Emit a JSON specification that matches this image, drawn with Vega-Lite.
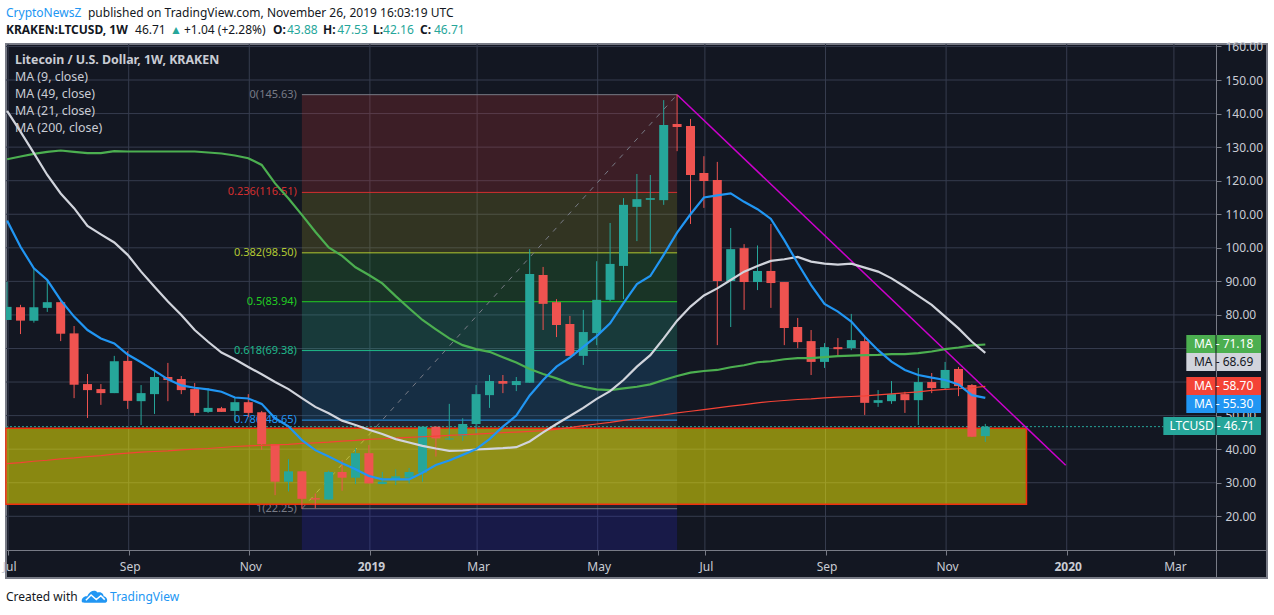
{
  "$schema": "https://vega.github.io/schema/vega-lite/v6.json",
  "width": 1261,
  "height": 534,
  "autosize": {"type": "none"},
  "padding": {"left": 6, "top": 44, "right": 7, "bottom": 37},
  "background": "white",
  "view": {"fill": "#131722", "stroke": "#787b86", "strokeWidth": 2},
  "config": {"axis": {"grid": false, "labelOverlap": false}, "text": {"font": "Noto Sans"}},
  "resolve": {"scale": {"color": "independent"}},
  "datasets": {
    "candles": [
      {"date":"2018-07-02","open":78.5,"high":89.9,"low":78.5,"close":82.4,"dir":"up","ma9":108.1,"ma21":140.8,"ma49":126.4,"ma200":35.7},
      {"date":"2018-07-09","open":82.3,"high":83,"low":74.3,"close":78.3,"dir":"down","ma9":100.3,"ma21":134.6,"ma49":127.2,"ma200":36},
      {"date":"2018-07-16","open":78.3,"high":93.9,"low":77.7,"close":82.3,"dir":"up","ma9":93.9,"ma21":128.2,"ma49":128,"ma200":36.4},
      {"date":"2018-07-23","open":82.1,"high":90.4,"low":80.9,"close":83.8,"dir":"up","ma9":90.4,"ma21":121.7,"ma49":128.6,"ma200":36.7},
      {"date":"2018-07-30","open":83.8,"high":84.2,"low":72.2,"close":74.4,"dir":"down","ma9":84.4,"ma21":116.2,"ma49":129,"ma200":37.1},
      {"date":"2018-08-06","open":74.5,"high":76.7,"low":55.2,"close":59.2,"dir":"down","ma9":79.5,"ma21":111.8,"ma49":128.6,"ma200":37.4},
      {"date":"2018-08-13","open":59.4,"high":62.4,"low":49.3,"close":57.6,"dir":"down","ma9":75.5,"ma21":106.5,"ma49":128.2,"ma200":37.8},
      {"date":"2018-08-20","open":57.9,"high":59.4,"low":53.2,"close":56.7,"dir":"down","ma9":73,"ma21":104,"ma49":128.2,"ma200":38.1},
      {"date":"2018-08-27","open":56.7,"high":67.8,"low":56.7,"close":66.2,"dir":"up","ma9":71.5,"ma21":101.6,"ma49":128.8,"ma200":38.5},
      {"date":"2018-09-03","open":66.3,"high":69.2,"low":52,"close":54.4,"dir":"down","ma9":68.2,"ma21":97.9,"ma49":128.7,"ma200":38.8},
      {"date":"2018-09-10","open":54.3,"high":59.1,"low":47.2,"close":56.7,"dir":"up","ma9":65.9,"ma21":92.9,"ma49":128.7,"ma200":39.1},
      {"date":"2018-09-17","open":56.4,"high":63.4,"low":50.5,"close":61.5,"dir":"up","ma9":63.4,"ma21":88.4,"ma49":128.7,"ma200":39.3},
      {"date":"2018-09-24","open":61.5,"high":65.7,"low":54.3,"close":60.6,"dir":"down","ma9":60.8,"ma21":84,"ma49":128.7,"ma200":39.5},
      {"date":"2018-10-01","open":60.9,"high":61.8,"low":56.4,"close":57.6,"dir":"down","ma9":59,"ma21":80,"ma49":128.7,"ma200":39.8},
      {"date":"2018-10-08","open":57.9,"high":59.7,"low":49.9,"close":50.8,"dir":"down","ma9":58.3,"ma21":75.5,"ma49":128.7,"ma200":40},
      {"date":"2018-10-15","open":51.1,"high":58.2,"low":50.8,"close":52.3,"dir":"up","ma9":57.8,"ma21":72,"ma49":128.4,"ma200":40.2},
      {"date":"2018-10-22","open":52.2,"high":52.6,"low":51.1,"close":51.1,"dir":"down","ma9":57.1,"ma21":68.8,"ma49":128.1,"ma200":40.5},
      {"date":"2018-10-29","open":51.4,"high":55.5,"low":48.4,"close":54,"dir":"up","ma9":55.4,"ma21":66.8,"ma49":127.5,"ma200":40.8},
      {"date":"2018-11-05","open":54,"high":56.4,"low":49.6,"close":50.8,"dir":"down","ma9":55.1,"ma21":64.5,"ma49":126.7,"ma200":41},
      {"date":"2018-11-12","open":51,"high":51.4,"low":39.8,"close":41.5,"dir":"down","ma9":53.5,"ma21":62.3,"ma49":124.7,"ma200":41.1},
      {"date":"2018-11-19","open":41.5,"high":41.5,"low":26.3,"close":30.3,"dir":"down","ma9":49.2,"ma21":60,"ma49":119.2,"ma200":41.3},
      {"date":"2018-11-26","open":30.3,"high":37,"low":27.4,"close":33.4,"dir":"up","ma9":46.8,"ma21":57.9,"ma49":114.7,"ma200":41.4},
      {"date":"2018-12-03","open":33.4,"high":33.4,"low":22.25,"close":25.2,"dir":"down","ma9":42.7,"ma21":55.2,"ma49":109.8,"ma200":41.7},
      {"date":"2018-12-10","open":25.4,"high":26.8,"low":22.4,"close":25,"dir":"down","ma9":39.7,"ma21":52.6,"ma49":104.8,"ma200":41.9},
      {"date":"2018-12-17","open":25,"high":33.6,"low":25,"close":33.2,"dir":"up","ma9":37.8,"ma21":50.7,"ma49":100.1,"ma200":42.1},
      {"date":"2018-12-24","open":33.2,"high":36.8,"low":27.6,"close":31.5,"dir":"down","ma9":35.8,"ma21":48.5,"ma49":97.6,"ma200":42.4},
      {"date":"2018-12-31","open":31.5,"high":40.2,"low":29.6,"close":38.8,"dir":"up","ma9":34,"ma21":47.2,"ma49":94.2,"ma200":42.6},
      {"date":"2019-01-07","open":38.8,"high":41.2,"low":29.8,"close":29.8,"dir":"down","ma9":32,"ma21":45.8,"ma49":91.9,"ma200":42.9},
      {"date":"2019-01-14","open":29.6,"high":33.2,"low":29.6,"close":30.3,"dir":"up","ma9":31,"ma21":44.5,"ma49":89.4,"ma200":43.1},
      {"date":"2019-01-21","open":30.8,"high":34,"low":29.3,"close":31.9,"dir":"up","ma9":31,"ma21":43,"ma49":85.6,"ma200":43.3},
      {"date":"2019-01-28","open":31.5,"high":34.4,"low":29.8,"close":33.2,"dir":"up","ma9":31,"ma21":42,"ma49":82,"ma200":43.5},
      {"date":"2019-02-04","open":33,"high":46.8,"low":30.3,"close":46.7,"dir":"up","ma9":33,"ma21":41,"ma49":78.5,"ma200":43.7},
      {"date":"2019-02-11","open":46.7,"high":46.8,"low":37.8,"close":43.2,"dir":"down","ma9":35.3,"ma21":40.2,"ma49":75.7,"ma200":43.9},
      {"date":"2019-02-18","open":42.9,"high":53.5,"low":42.7,"close":43.2,"dir":"up","ma9":36.6,"ma21":39.5,"ma49":73,"ma200":44.1},
      {"date":"2019-02-25","open":44,"high":49.2,"low":42.5,"close":47.5,"dir":"up","ma9":38.3,"ma21":39.6,"ma49":71,"ma200":44.3},
      {"date":"2019-03-04","open":47.5,"high":59.1,"low":44.7,"close":56.4,"dir":"up","ma9":40,"ma21":39.9,"ma49":69.8,"ma200":44.5},
      {"date":"2019-03-11","open":56.1,"high":62.1,"low":52.3,"close":60.3,"dir":"up","ma9":43,"ma21":40.1,"ma49":69,"ma200":44.7},
      {"date":"2019-03-18","open":60.3,"high":62.1,"low":56.7,"close":59.5,"dir":"down","ma9":46.7,"ma21":40.3,"ma49":67.4,"ma200":44.9},
      {"date":"2019-03-25","open":59.1,"high":61.5,"low":57.3,"close":60.3,"dir":"up","ma9":50,"ma21":40.6,"ma49":65.8,"ma200":45.1},
      {"date":"2019-04-01","open":59.8,"high":99.6,"low":59.8,"close":92.2,"dir":"up","ma9":56,"ma21":42.3,"ma49":63.9,"ma200":45.3},
      {"date":"2019-04-08","open":91.9,"high":94.3,"low":75.5,"close":83.3,"dir":"down","ma9":60.6,"ma21":45,"ma49":62.4,"ma200":45.5},
      {"date":"2019-04-15","open":83.8,"high":84.7,"low":73.4,"close":77,"dir":"down","ma9":64.6,"ma21":47.5,"ma49":61.1,"ma200":45.9},
      {"date":"2019-04-22","open":77.3,"high":79.7,"low":67.8,"close":67.8,"dir":"down","ma9":67.3,"ma21":49.9,"ma49":59.6,"ma200":46.4},
      {"date":"2019-04-29","open":67.8,"high":81.5,"low":65.1,"close":74.9,"dir":"up","ma9":70.5,"ma21":52.3,"ma49":58.6,"ma200":47},
      {"date":"2019-05-06","open":74.6,"high":96,"low":71,"close":84.5,"dir":"up","ma9":73.7,"ma21":55,"ma49":57.8,"ma200":47.5},
      {"date":"2019-05-13","open":84.5,"high":107.4,"low":84.1,"close":95.2,"dir":"up","ma9":77.5,"ma21":57.3,"ma49":57.6,"ma200":48},
      {"date":"2019-05-20","open":94.6,"high":114.8,"low":84.7,"close":112.8,"dir":"up","ma9":83.5,"ma21":60.6,"ma49":58.1,"ma200":48.6},
      {"date":"2019-05-27","open":112.2,"high":122,"low":102,"close":114.5,"dir":"up","ma9":89.2,"ma21":64.6,"ma49":58.6,"ma200":49.1},
      {"date":"2019-06-03","open":114.3,"high":121.7,"low":98.3,"close":114.8,"dir":"up","ma9":91.6,"ma21":68,"ma49":59.3,"ma200":49.7},
      {"date":"2019-06-10","open":114.2,"high":144,"low":112.8,"close":136.6,"dir":"up","ma9":97.9,"ma21":73,"ma49":60.6,"ma200":50.2},
      {"date":"2019-06-17","open":136.9,"high":145.63,"low":128.8,"close":136,"dir":"down","ma9":104.5,"ma21":78.3,"ma49":61.8,"ma200":50.8},
      {"date":"2019-06-24","open":136.3,"high":138.4,"low":107.1,"close":121.7,"dir":"down","ma9":110,"ma21":82.5,"ma49":62.8,"ma200":51.3},
      {"date":"2019-07-01","open":122.3,"high":127.3,"low":111.9,"close":119.9,"dir":"down","ma9":115,"ma21":85.8,"ma49":63.3,"ma200":51.8},
      {"date":"2019-07-08","open":120.2,"high":125.6,"low":71,"close":90.1,"dir":"down","ma9":115.6,"ma21":87.9,"ma49":63.6,"ma200":52.3},
      {"date":"2019-07-15","open":90.1,"high":105.9,"low":76.4,"close":99.6,"dir":"up","ma9":116.2,"ma21":90.4,"ma49":64.4,"ma200":52.8},
      {"date":"2019-07-22","open":99.9,"high":101.1,"low":81.5,"close":89.8,"dir":"down","ma9":113.7,"ma21":92.9,"ma49":65,"ma200":53.3},
      {"date":"2019-07-29","open":89.8,"high":100.7,"low":87.4,"close":93.1,"dir":"up","ma9":111.5,"ma21":94.6,"ma49":65.9,"ma200":53.8},
      {"date":"2019-08-05","open":93.1,"high":107.1,"low":82.1,"close":89.5,"dir":"down","ma9":108.6,"ma21":96.1,"ma49":66.2,"ma200":54.2},
      {"date":"2019-08-12","open":89.8,"high":89.8,"low":71,"close":76.1,"dir":"down","ma9":102.3,"ma21":96.6,"ma49":66.8,"ma200":54.5},
      {"date":"2019-08-19","open":76.4,"high":79.1,"low":70.1,"close":71.9,"dir":"down","ma9":95.4,"ma21":97.3,"ma49":67.1,"ma200":54.8},
      {"date":"2019-08-26","open":72.2,"high":75.5,"low":62.1,"close":66,"dir":"down","ma9":88.9,"ma21":95.9,"ma49":67.1,"ma200":55},
      {"date":"2019-09-02","open":66,"high":71.6,"low":64.2,"close":70.4,"dir":"up","ma9":83.3,"ma21":95.3,"ma49":67.4,"ma200":55.3},
      {"date":"2019-09-09","open":70.4,"high":73.1,"low":67.8,"close":69.8,"dir":"down","ma9":81,"ma21":95,"ma49":67.7,"ma200":55.5},
      {"date":"2019-09-16","open":70.1,"high":80.3,"low":69.5,"close":72.5,"dir":"up","ma9":78,"ma21":95.3,"ma49":67.9,"ma200":55.7},
      {"date":"2019-09-23","open":72.2,"high":73.5,"low":50.2,"close":53.8,"dir":"down","ma9":73.5,"ma21":94.1,"ma49":68,"ma200":55.9},
      {"date":"2019-09-30","open":53.8,"high":57.6,"low":52.6,"close":54.6,"dir":"up","ma9":69.5,"ma21":92.9,"ma49":68.1,"ma200":56.2},
      {"date":"2019-10-07","open":54.3,"high":60.3,"low":53.5,"close":56.4,"dir":"up","ma9":66.1,"ma21":90.9,"ma49":68.3,"ma200":56.5},
      {"date":"2019-10-14","open":56.4,"high":57.1,"low":50.8,"close":54.6,"dir":"down","ma9":63.6,"ma21":88.4,"ma49":68.3,"ma200":56.8},
      {"date":"2019-10-21","open":54.6,"high":64.2,"low":47.2,"close":60,"dir":"up","ma9":62.1,"ma21":85.7,"ma49":68.6,"ma200":57.1},
      {"date":"2019-10-28","open":60,"high":62.7,"low":56.7,"close":58.2,"dir":"down","ma9":61.3,"ma21":83,"ma49":69.1,"ma200":57.5},
      {"date":"2019-11-04","open":58.2,"high":66,"low":57.9,"close":63.6,"dir":"up","ma9":60.6,"ma21":79.5,"ma49":69.8,"ma200":57.8},
      {"date":"2019-11-11","open":63.9,"high":64.5,"low":55.8,"close":58.8,"dir":"down","ma9":59.3,"ma21":76,"ma49":70.3,"ma200":58},
      {"date":"2019-11-18","open":59.1,"high":59.4,"low":43.6,"close":43.7,"dir":"down","ma9":56.1,"ma21":72,"ma49":70.9,"ma200":58.3},
      {"date":"2019-11-25","open":43.88,"high":47.53,"low":42.16,"close":46.71,"dir":"up","ma9":55.3,"ma21":68.69,"ma49":71.18,"ma200":58.7}
    ],
    "gridH": [
      {"price":20,"from":"2018-07-01T10:00:00Z","to":"2020-03-24T12:00:00Z"},
      {"price":30,"from":"2018-07-01T10:00:00Z","to":"2020-03-24T12:00:00Z"},
      {"price":40,"from":"2018-07-01T10:00:00Z","to":"2020-03-24T12:00:00Z"},
      {"price":50,"from":"2018-07-01T10:00:00Z","to":"2020-03-24T12:00:00Z"},
      {"price":60,"from":"2018-07-01T10:00:00Z","to":"2020-03-24T12:00:00Z"},
      {"price":70,"from":"2018-07-01T10:00:00Z","to":"2020-03-24T12:00:00Z"},
      {"price":80,"from":"2018-07-01T10:00:00Z","to":"2020-03-24T12:00:00Z"},
      {"price":90,"from":"2018-07-01T10:00:00Z","to":"2020-03-24T12:00:00Z"},
      {"price":100,"from":"2018-07-01T10:00:00Z","to":"2020-03-24T12:00:00Z"},
      {"price":110,"from":"2018-07-01T10:00:00Z","to":"2020-03-24T12:00:00Z"},
      {"price":120,"from":"2018-07-01T10:00:00Z","to":"2020-03-24T12:00:00Z"},
      {"price":130,"from":"2018-07-01T10:00:00Z","to":"2020-03-24T12:00:00Z"},
      {"price":140,"from":"2018-07-01T10:00:00Z","to":"2020-03-24T12:00:00Z"},
      {"price":150,"from":"2018-07-01T10:00:00Z","to":"2020-03-24T12:00:00Z"},
      {"price":160,"from":"2018-07-01T10:00:00Z","to":"2020-03-24T12:00:00Z"}
    ],
    "gridV": [
      {"date":"2018-07-02","low":9.95,"high":160.73},
      {"date":"2018-09-03","low":9.95,"high":160.73},
      {"date":"2018-11-05","low":9.95,"high":160.73},
      {"date":"2019-01-07","low":9.95,"high":160.73},
      {"date":"2019-03-04","low":9.95,"high":160.73},
      {"date":"2019-05-06","low":9.95,"high":160.73},
      {"date":"2019-07-01","low":9.95,"high":160.73},
      {"date":"2019-09-02","low":9.95,"high":160.73},
      {"date":"2019-11-04","low":9.95,"high":160.73},
      {"date":"2020-01-06","low":9.95,"high":160.73},
      {"date":"2020-03-02","low":9.95,"high":160.73}
    ],
    "fib": [
      {"level":"0","label":"0(145.63)","price":145.63,"lower":116.51,"from":"2018-12-03","to":"2019-06-17"},
      {"level":"0.236","label":"0.236(116.51)","price":116.51,"lower":98.5,"from":"2018-12-03","to":"2019-06-17"},
      {"level":"0.382","label":"0.382(98.50)","price":98.5,"lower":83.94,"from":"2018-12-03","to":"2019-06-17"},
      {"level":"0.5","label":"0.5(83.94)","price":83.94,"lower":69.38,"from":"2018-12-03","to":"2019-06-17"},
      {"level":"0.618","label":"0.618(69.38)","price":69.38,"lower":48.65,"from":"2018-12-03","to":"2019-06-17"},
      {"level":"0.786","label":"0.786(48.65)","price":48.65,"lower":22.25,"from":"2018-12-03","to":"2019-06-17"},
      {"level":"1","label":"1(22.25)","price":22.25,"lower":9.95,"from":"2018-12-03","to":"2019-06-17"}
    ],
    "fibTrend": [
      {"date":"2018-12-03","price":22.25},
      {"date":"2019-06-17","price":145.63}
    ],
    "downTrend": [
      {"date":"2019-06-17","price":145.6},
      {"date":"2020-01-06","price":35.2}
    ],
    "zone": [
      {"from":"2018-07-01T10:00:00Z","to":"2019-12-16T12:00:00Z","top":46.2,"bottom":23.57}
    ],
    "lastPrice": [
      {"from":"2018-07-01T10:00:00Z","to":"2020-02-26","price":46.71}
    ],
    "boxes": [
      {"label":"MA - 71.18","center":71.33,"from":"2020-03-09","to":"2020-04-17","mid":"2020-03-28T12:00:00Z","axis":"2020-03-24T12:00:00Z","high":74.02,"low":68.65,"tone":"green"},
      {"label":"MA - 68.69","center":65.97,"from":"2020-03-09","to":"2020-04-17","mid":"2020-03-28T12:00:00Z","axis":"2020-03-24T12:00:00Z","high":68.65,"low":63.29,"tone":"grey"},
      {"label":"MA - 58.70","center":58.82,"from":"2020-03-09","to":"2020-04-17","mid":"2020-03-28T12:00:00Z","axis":"2020-03-24T12:00:00Z","high":61.5,"low":56.14,"tone":"red"},
      {"label":"MA - 55.30","center":53.45,"from":"2020-03-09","to":"2020-04-17","mid":"2020-03-28T12:00:00Z","axis":"2020-03-24T12:00:00Z","high":56.14,"low":50.77,"tone":"blue"},
      {"label":"LTCUSD - 46.71","center":46.9,"from":"2020-02-26","to":"2020-04-17","mid":"2020-03-22T10:00:00Z","axis":"2020-03-24T12:00:00Z","high":49.58,"low":44.22,"tone":"teal"}
    ],
    "notes": [
      {"text":"CryptoNewsZ","date":"2018-07-01T10:00:00Z","price":170,"tone":"link"},
      {"text":"published on TradingView.com, November 26, 2019 16:03:19 UTC","date":"2018-08-13T06:00:00Z","price":170,"tone":"ink"},
      {"text":"46.71","date":"2018-09-06T20:00:00Z","price":164.9,"tone":"ink"},
      {"text":"▲","date":"2018-09-25T03:00:00Z","price":164.9,"tone":"teal"},
      {"text":"+1.04 (+2.28%)","date":"2018-10-02T10:00:00Z","price":164.9,"tone":"ink"},
      {"text":"43.88","date":"2018-11-25T05:00:00Z","price":164.9,"tone":"teal"},
      {"text":"47.53","date":"2018-12-21T10:00:00Z","price":164.9,"tone":"teal"},
      {"text":"42.16","date":"2019-01-14T10:00:00Z","price":164.9,"tone":"teal"},
      {"text":"46.71","date":"2019-02-10T00:00:00Z","price":164.9,"tone":"teal"},
      {"text":"Created with","date":"2018-07-01T10:00:00Z","price":-4.05,"tone":"ink"},
      {"text":"TradingView","date":"2018-08-24T19:00:00Z","price":-4.05,"tone":"link"}
    ],
    "boldNotes": [
      {"text":"KRAKEN:LTCUSD, 1W","date":"2018-07-01T10:00:00Z","price":164.9},
      {"text":"O:","date":"2018-11-17T22:00:00Z","price":164.9},
      {"text":"H:","date":"2018-12-14T00:00:00Z","price":164.9},
      {"text":"L:","date":"2019-01-09T05:00:00Z","price":164.9},
      {"text":"C:","date":"2019-02-02T17:00:00Z","price":164.9}
    ],
    "paneLegend": [
      {"text":"MA (9, close)","date":"2018-07-06T03:00:00Z","price":150.9},
      {"text":"MA (49, close)","date":"2018-07-06T03:00:00Z","price":145.8},
      {"text":"MA (21, close)","date":"2018-07-06T03:00:00Z","price":140.8},
      {"text":"MA (200, close)","date":"2018-07-06T03:00:00Z","price":135.7}
    ],
    "paneTitle": [
      {"text":"Litecoin / U.S. Dollar, 1W, KRAKEN","date":"2018-07-06T03:00:00Z","price":155.96}
    ],
    "logo": [
      {"date":"2018-08-16T22:00:00Z","price":-4.05}
    ]
  },
  "layer": [
    {
      "data": {"name": "gridH"},
      "mark": {"type": "rule", "color": "#363c4e", "strokeWidth": 1},
      "encoding": {
        "x": {
          "field": "from",
          "type": "temporal",
          "title": null,
          "scale": {"type": "utc", "domain": [1530440600000, 1587353600000], "nice": false, "padding": 0},
          "axis": {
            "orient": "bottom",
            "offset": -28,
            "values": [1530489600000, 1535932800000, 1541376000000, 1546819200000, 1551657600000, 1557100800000, 1561939200000, 1567382400000, 1572825600000, 1578268800000, 1583107200000],
            "labelExpr": "utcmonth(datum.value) == 0 ? utcFormat(datum.value, '%Y') : utcFormat(datum.value, '%b')",
            "labelFont": "Noto Sans",
            "labelFontSize": 12,
            "labelColor": "#c9ccd4",
            "labelFontWeight": {"condition": {"test": "utcmonth(datum.value) == 0", "value": "bold"}, "value": "normal"},
            "labelOffset": 1,
            "tickOffset": 1,
            "labelPadding": 6,
            "labelOverlap": false,
            "labelFlush": false,
            "tickColor": "#787b86",
            "tickSize": 5,
            "domainColor": "#787b86",
            "domainWidth": 1
          }
        },
        "x2": {"field": "to"},
        "y": {
          "field": "price",
          "type": "quantitative",
          "title": null,
          "scale": {"domain": [1.61, 160.73], "nice": false, "zero": false},
          "axis": {
            "orient": "right",
            "offset": -51,
            "values": [20, 30, 40, 50, 80, 90, 100, 110, 120, 130, 140, 150, 160],
            "tickCount": 15,
            "format": ".2f",
            "labelFont": "Noto Sans",
            "labelFontSize": 12,
            "labelColor": "#c9ccd4",
            "labelPadding": 4,
            "labelOverlap": false,
            "labelFlush": false,
            "tickColor": "#787b86",
            "tickSize": 5,
            "domainColor": "#787b86",
            "domainWidth": 1
          }
        }
      }
    },
    {
      "data": {"name": "gridV"},
      "mark": {"type": "rule", "color": "#363c4e", "strokeWidth": 1, "xOffset": 1},
      "encoding": {
        "x": {"field": "date", "type": "temporal", "title": null},
        "y": {"field": "low", "type": "quantitative", "title": null},
        "y2": {"field": "high"}
      }
    },
    {
      "data": {"name": "fib"},
      "mark": {"type": "rect", "opacity": 0.2},
      "encoding": {
        "x": {"field": "from", "type": "temporal", "title": null},
        "x2": {"field": "to"},
        "y": {"field": "price", "type": "quantitative", "title": null},
        "y2": {"field": "lower"},
        "color": {
          "field": "level",
          "type": "nominal",
          "legend": null,
          "scale": {
            "domain": ["0", "0.236", "0.382", "0.5", "0.618", "0.786", "1"],
            "range": ["#e03a36", "#aea822", "#31a836", "#2cc69a", "#228acc", "#5a5a6e", "#2c26e0"]
          }
        }
      }
    },
    {
      "data": {"name": "fib"},
      "mark": {"type": "rule", "strokeWidth": 1},
      "encoding": {
        "x": {"field": "from", "type": "temporal", "title": null},
        "x2": {"field": "to"},
        "y": {"field": "price", "type": "quantitative", "title": null},
        "color": {
          "field": "level",
          "type": "nominal",
          "legend": null,
          "scale": {
            "domain": ["0", "0.236", "0.382", "0.5", "0.618", "0.786", "1"],
            "range": ["#787b86", "#d32f2f", "#b2c832", "#22cc22", "#1fb88a", "#2196f3", "#787b86"]
          }
        }
      }
    },
    {
      "data": {"name": "fib"},
      "mark": {"type": "text", "align": "right", "baseline": "middle", "dx": -5, "fontSize": 11, "font": "Noto Sans"},
      "encoding": {
        "x": {"field": "from", "type": "temporal", "title": null},
        "y": {"field": "price", "type": "quantitative", "title": null},
        "text": {"field": "label"},
        "color": {
          "field": "level",
          "type": "nominal",
          "legend": null,
          "scale": {
            "domain": ["0", "0.236", "0.382", "0.5", "0.618", "0.786", "1"],
            "range": ["#787b86", "#d32f2f", "#b2c832", "#22cc22", "#1fb88a", "#2196f3", "#787b86"]
          }
        }
      }
    },
    {
      "data": {"name": "fibTrend"},
      "mark": {"type": "line", "color": "#787b86", "strokeWidth": 1, "strokeDash": [5, 6]},
      "encoding": {
        "x": {"field": "date", "type": "temporal", "title": null},
        "y": {"field": "price", "type": "quantitative", "title": null}
      }
    },
    {
      "data": {"name": "zone"},
      "mark": {"type": "rect", "fill": "#fffa00", "fillOpacity": 0.5, "stroke": "#f0300f", "strokeWidth": 1.5},
      "encoding": {
        "x": {"field": "from", "type": "temporal", "title": null},
        "x2": {"field": "to"},
        "y": {"field": "top", "type": "quantitative", "title": null},
        "y2": {"field": "bottom"}
      }
    },
    {
      "data": {"name": "downTrend"},
      "mark": {"type": "line", "color": "#cc00cc", "strokeWidth": 1.5},
      "encoding": {
        "x": {"field": "date", "type": "temporal", "title": null},
        "y": {"field": "price", "type": "quantitative", "title": null}
      }
    },
    {
      "data": {"name": "lastPrice"},
      "mark": {"type": "rule", "color": "#26a69a", "strokeWidth": 1, "strokeDash": [2, 2]},
      "encoding": {
        "x": {"field": "from", "type": "temporal", "title": null},
        "x2": {"field": "to"},
        "y": {"field": "price", "type": "quantitative", "title": null}
      }
    },
    {
      "data": {"name": "candles"},
      "mark": {"type": "rule", "strokeWidth": 1},
      "encoding": {
        "x": {"field": "date", "type": "temporal", "title": null},
        "y": {"field": "low", "type": "quantitative", "title": null},
        "y2": {"field": "high"},
        "color": {"field": "dir", "type": "nominal", "legend": null, "scale": {"domain": ["up", "down"], "range": ["#26a69a", "#ef5350"]}}
      }
    },
    {
      "data": {"name": "candles"},
      "mark": {"type": "bar", "width": 9, "clip": true},
      "encoding": {
        "x": {"field": "date", "type": "temporal", "title": null},
        "y": {"field": "open", "type": "quantitative", "title": null},
        "y2": {"field": "close"},
        "color": {"field": "dir", "type": "nominal", "legend": null, "scale": {"domain": ["up", "down"], "range": ["#26a69a", "#ef5350"]}}
      }
    },
    {
      "data": {"name": "candles"},
      "mark": {"type": "line", "color": "#4caf50", "strokeWidth": 2.2},
      "encoding": {
        "x": {"field": "date", "type": "temporal", "title": null},
        "y": {"field": "ma49", "type": "quantitative", "title": null}
      }
    },
    {
      "data": {"name": "candles"},
      "mark": {"type": "line", "color": "#f44336", "strokeWidth": 1.2},
      "encoding": {
        "x": {"field": "date", "type": "temporal", "title": null},
        "y": {"field": "ma200", "type": "quantitative", "title": null}
      }
    },
    {
      "data": {"name": "candles"},
      "mark": {"type": "line", "color": "#d1d4dc", "strokeWidth": 2.2},
      "encoding": {
        "x": {"field": "date", "type": "temporal", "title": null},
        "y": {"field": "ma21", "type": "quantitative", "title": null}
      }
    },
    {
      "data": {"name": "candles"},
      "mark": {"type": "line", "color": "#2196f3", "strokeWidth": 2.2},
      "encoding": {
        "x": {"field": "date", "type": "temporal", "title": null},
        "y": {"field": "ma9", "type": "quantitative", "title": null}
      }
    },
    {
      "data": {"name": "boxes"},
      "mark": {"type": "rect"},
      "encoding": {
        "x": {"field": "from", "type": "temporal", "title": null},
        "x2": {"field": "to"},
        "y": {"field": "high", "type": "quantitative", "title": null},
        "y2": {"field": "low"},
        "color": {
          "field": "tone",
          "type": "nominal",
          "legend": null,
          "scale": {"domain": ["green", "grey", "red", "blue", "teal"], "range": ["#4caf50", "#d1d4dc", "#f44336", "#2196f3", "#26a69a"]}
        }
      }
    },
    {
      "data": {"name": "boxes"},
      "mark": {"type": "rule", "color": "#131722", "strokeWidth": 1},
      "encoding": {
        "x": {"field": "axis", "type": "temporal", "title": null},
        "y": {"field": "high", "type": "quantitative", "title": null},
        "y2": {"field": "low"}
      }
    },
    {
      "data": {"name": "boxes"},
      "mark": {"type": "text", "align": "center", "baseline": "middle", "fontSize": 12, "font": "Noto Sans"},
      "encoding": {
        "x": {"field": "mid", "type": "temporal", "title": null},
        "y": {"field": "center", "type": "quantitative", "title": null},
        "text": {"field": "label"},
        "color": {
          "field": "tone",
          "type": "nominal",
          "legend": null,
          "scale": {"domain": ["green", "grey", "red", "blue", "teal"], "range": ["#ffffff", "#131722", "#ffffff", "#ffffff", "#ffffff"]}
        }
      }
    },
    {
      "data": {"name": "notes"},
      "mark": {"type": "text", "align": "left", "baseline": "middle", "fontSize": 12, "font": "Noto Sans"},
      "encoding": {
        "x": {"field": "date", "type": "temporal", "title": null},
        "y": {"field": "price", "type": "quantitative", "title": null},
        "text": {"field": "text"},
        "color": {
          "field": "tone",
          "type": "nominal",
          "legend": null,
          "scale": {"domain": ["link", "ink", "teal"], "range": ["#2196f3", "#131722", "#26a69a"]}
        }
      }
    },
    {
      "data": {"name": "boldNotes"},
      "mark": {"type": "text", "align": "left", "baseline": "middle", "fontSize": 12, "fontWeight": "bold", "font": "Noto Sans", "color": "#131722"},
      "encoding": {
        "x": {"field": "date", "type": "temporal", "title": null},
        "y": {"field": "price", "type": "quantitative", "title": null},
        "text": {"field": "text"}
      }
    },
    {
      "data": {"name": "paneLegend"},
      "mark": {"type": "text", "align": "left", "baseline": "middle", "fontSize": 12.4, "font": "Noto Sans", "color": "#c9ccd4"},
      "encoding": {
        "x": {"field": "date", "type": "temporal", "title": null},
        "y": {"field": "price", "type": "quantitative", "title": null},
        "text": {"field": "text"}
      }
    },
    {
      "data": {"name": "paneTitle"},
      "mark": {"type": "text", "align": "left", "baseline": "middle", "fontSize": 12.4, "fontWeight": "bold", "font": "Noto Sans", "color": "#c9ccd4"},
      "encoding": {
        "x": {"field": "date", "type": "temporal", "title": null},
        "y": {"field": "price", "type": "quantitative", "title": null},
        "text": {"field": "text"}
      }
    },
    {
      "data": {"name": "logo"},
      "mark": {
        "type": "point",
        "filled": true,
        "opacity": 1,
        "color": "#2196f3",
        "size": 676,
        "shape": "M-1 0.4 C-1.1 0.1 -0.8 -0.1 -0.6 -0.05 C-0.45 -0.45 0 -0.6 0.2 -0.35 C0.5 -0.45 0.7 -0.2 0.65 -0.05 C0.95 -0.05 1.05 0.4 0.8 0.45 L-0.8 0.45 Z"
      },
      "encoding": {
        "x": {"field": "date", "type": "temporal", "title": null},
        "y": {"field": "price", "type": "quantitative", "title": null}
      }
    },
    {
      "data": {"name": "logo"},
      "mark": {
        "type": "point",
        "filled": false,
        "opacity": 1,
        "color": "#ffffff",
        "strokeWidth": 1.5,
        "size": 676,
        "shape": "M-0.7 0.25 L-0.3 -0.15 L0.1 0.2 L0.45 -0.1 L0.75 0.2"
      },
      "encoding": {
        "x": {"field": "date", "type": "temporal", "title": null},
        "y": {"field": "price", "type": "quantitative", "title": null}
      }
    }
  ]
}
